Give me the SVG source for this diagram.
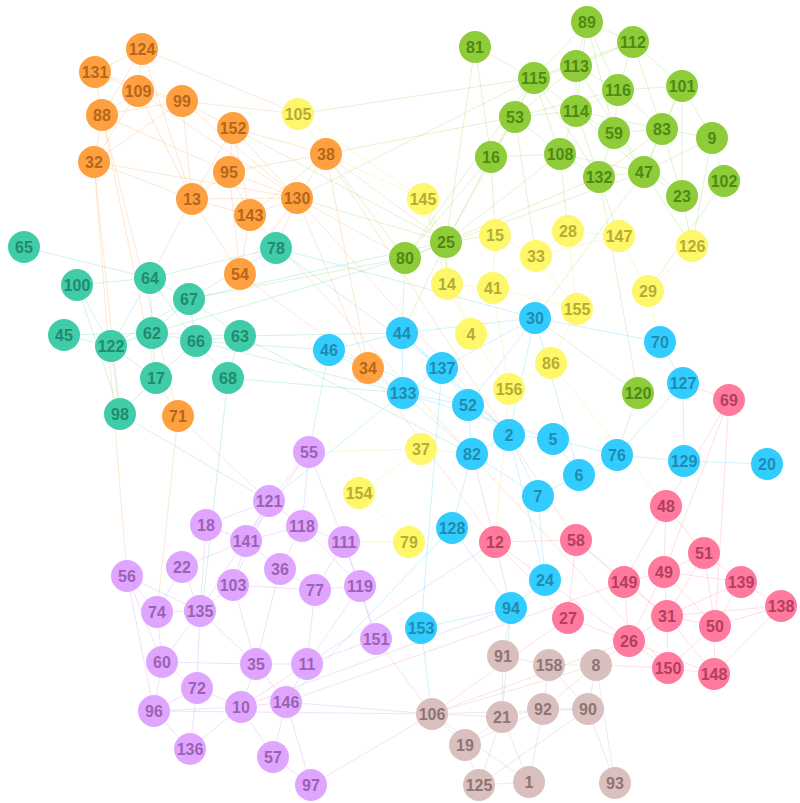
<svg xmlns="http://www.w3.org/2000/svg" width="800" height="803" viewBox="0 0 800 803">
<style>
text{font-family:"Liberation Sans",Arial,sans-serif;font-weight:bold;font-size:16px;text-anchor:middle}
circle{r:16px}
.or circle{fill:#ffa040}.or text{fill:#b5661a}
.te circle{fill:#40cca8}.te text{fill:#1f8a6e}
.gr circle{fill:#8ecc3a}.gr text{fill:#4e8a12}
.ye circle{fill:#fff76a}.ye text{fill:#b5ad33}
.bl circle{fill:#33ccff}.bl text{fill:#1e8cb0}
.pk circle{fill:#ff7a9c}.pk text{fill:#b33e60}
.pu circle{fill:#e0a6ff}.pu text{fill:#9b62b3}
.ta circle{fill:#d9c0bf}.ta text{fill:#8f7472}
#edges line{stroke-width:0.8;stroke-opacity:0.3}
.eo{stroke:#ffa040}.et{stroke:#40cca8}.eg{stroke:#8ecc3a}.ey{stroke:#e6dc40}.eb{stroke:#33ccff}.ep{stroke:#ff7a9c}.eu{stroke:#c080f0}.en{stroke:#c0a0a0}
</style>
<rect width="800" height="803" fill="#ffffff"/>
<g id="edges">
<!-- orange -->
<line class="eo" x1="142" y1="49" x2="95" y2="72"/><line class="eo" x1="142" y1="49" x2="138" y2="91"/><line class="eo" x1="142" y1="49" x2="102" y2="115"/><line class="eo" x1="142" y1="49" x2="298" y2="114"/><line class="eo" x1="142" y1="49" x2="192" y2="199"/>
<line class="eo" x1="95" y1="72" x2="138" y2="91"/><line class="eo" x1="95" y1="72" x2="182" y2="101"/><line class="eo" x1="95" y1="72" x2="102" y2="115"/>
<line class="eo" x1="138" y1="91" x2="182" y2="101"/><line class="eo" x1="138" y1="91" x2="102" y2="115"/><line class="eo" x1="138" y1="91" x2="94" y2="162"/><line class="eo" x1="138" y1="91" x2="192" y2="199"/><line class="eo" x1="138" y1="91" x2="297" y2="198"/>
<line class="eo" x1="102" y1="115" x2="94" y2="162"/><line class="eo" x1="102" y1="115" x2="182" y2="101"/><line class="eo" x1="102" y1="115" x2="229" y2="172"/><line class="eo" x1="102" y1="115" x2="178" y2="416"/><line class="eo" x1="102" y1="115" x2="156" y2="378"/>
<line class="eo" x1="182" y1="101" x2="298" y2="114"/><line class="eo" x1="182" y1="101" x2="233" y2="128"/><line class="eo" x1="182" y1="101" x2="192" y2="199"/><line class="eo" x1="182" y1="101" x2="297" y2="198"/><line class="eo" x1="182" y1="101" x2="94" y2="162"/>
<line class="eo" x1="233" y1="128" x2="229" y2="172"/><line class="eo" x1="233" y1="128" x2="297" y2="198"/><line class="eo" x1="233" y1="128" x2="250" y2="215"/><line class="eo" x1="233" y1="128" x2="326" y2="154"/><line class="eo" x1="233" y1="128" x2="192" y2="199"/>
<line class="eo" x1="326" y1="154" x2="297" y2="198"/><line class="eo" x1="326" y1="154" x2="229" y2="172"/><line class="eo" x1="326" y1="154" x2="250" y2="215"/><line class="eo" x1="326" y1="154" x2="446" y2="242"/><line class="eo" x1="326" y1="154" x2="368" y2="368"/>
<line class="eo" x1="229" y1="172" x2="192" y2="199"/><line class="eo" x1="229" y1="172" x2="250" y2="215"/><line class="eo" x1="229" y1="172" x2="297" y2="198"/><line class="eo" x1="229" y1="172" x2="240" y2="274"/>
<line class="eo" x1="192" y1="199" x2="250" y2="215"/><line class="eo" x1="192" y1="199" x2="297" y2="198"/><line class="eo" x1="192" y1="199" x2="240" y2="274"/><line class="eo" x1="192" y1="199" x2="150" y2="278"/><line class="eo" x1="192" y1="199" x2="94" y2="162"/>
<line class="eo" x1="94" y1="162" x2="297" y2="198"/><line class="eo" x1="94" y1="162" x2="127" y2="576"/><line class="eo" x1="94" y1="162" x2="120" y2="414"/>
<line class="eo" x1="250" y1="215" x2="240" y2="274"/><line class="eo" x1="250" y1="215" x2="297" y2="198"/><line class="eo" x1="297" y1="198" x2="240" y2="274"/><line class="eo" x1="297" y1="198" x2="276" y2="248"/><line class="eo" x1="297" y1="198" x2="405" y2="258"/><line class="eo" x1="297" y1="198" x2="368" y2="368"/><line class="eo" x1="297" y1="198" x2="509" y2="435"/>
<line class="eo" x1="240" y1="274" x2="368" y2="368"/><line class="eo" x1="368" y1="368" x2="495" y2="542"/><line class="eo" x1="368" y1="368" x2="403" y2="393"/><line class="eo" x1="178" y1="416" x2="157" y2="612"/><line class="eo" x1="178" y1="416" x2="156" y2="378"/><line class="eo" x1="178" y1="416" x2="269" y2="501"/>
<line class="eo" x1="326" y1="154" x2="576" y2="540"/><line class="eo" x1="250" y1="215" x2="668" y2="668"/>
<!-- teal -->
<line class="et" x1="24" y1="247" x2="150" y2="278"/><line class="et" x1="150" y1="278" x2="77" y2="285"/><line class="et" x1="150" y1="278" x2="189" y2="299"/><line class="et" x1="150" y1="278" x2="152" y2="333"/><line class="et" x1="150" y1="278" x2="111" y2="346"/><line class="et" x1="150" y1="278" x2="196" y2="341"/><line class="et" x1="150" y1="278" x2="276" y2="248"/>
<line class="et" x1="77" y1="285" x2="111" y2="346"/><line class="et" x1="77" y1="285" x2="120" y2="414"/><line class="et" x1="64" y1="335" x2="111" y2="346"/><line class="et" x1="64" y1="335" x2="152" y2="333"/>
<line class="et" x1="111" y1="346" x2="152" y2="333"/><line class="et" x1="111" y1="346" x2="156" y2="378"/><line class="et" x1="111" y1="346" x2="120" y2="414"/><line class="et" x1="111" y1="346" x2="189" y2="299"/>
<line class="et" x1="152" y1="333" x2="196" y2="341"/><line class="et" x1="152" y1="333" x2="156" y2="378"/><line class="et" x1="152" y1="333" x2="189" y2="299"/><line class="et" x1="152" y1="333" x2="240" y2="336"/><line class="et" x1="152" y1="333" x2="405" y2="258"/>
<line class="et" x1="196" y1="341" x2="189" y2="299"/><line class="et" x1="196" y1="341" x2="240" y2="336"/><line class="et" x1="196" y1="341" x2="228" y2="378"/><line class="et" x1="196" y1="341" x2="156" y2="378"/><line class="et" x1="196" y1="341" x2="329" y2="350"/><line class="et" x1="196" y1="341" x2="403" y2="393"/>
<line class="et" x1="156" y1="378" x2="120" y2="414"/><line class="et" x1="240" y1="336" x2="228" y2="378"/><line class="et" x1="240" y1="336" x2="402" y2="333"/><line class="et" x1="240" y1="336" x2="189" y2="299"/><line class="et" x1="189" y1="299" x2="276" y2="248"/><line class="et" x1="189" y1="299" x2="446" y2="242"/>
<line class="et" x1="228" y1="378" x2="403" y2="393"/><line class="et" x1="228" y1="378" x2="202" y2="611"/><line class="et" x1="120" y1="414" x2="269" y2="501"/><line class="et" x1="276" y1="248" x2="535" y2="318"/><line class="et" x1="276" y1="248" x2="442" y2="368"/><line class="et" x1="240" y1="336" x2="472" y2="454"/>
<!-- green -->
<line class="eg" x1="475" y1="47" x2="534" y2="78"/><line class="eg" x1="475" y1="47" x2="491" y2="157"/><line class="eg" x1="475" y1="47" x2="446" y2="242"/>
<line class="eg" x1="587" y1="22" x2="576" y2="66"/><line class="eg" x1="587" y1="22" x2="534" y2="78"/><line class="eg" x1="587" y1="22" x2="633" y2="42"/><line class="eg" x1="587" y1="22" x2="618" y2="90"/><line class="eg" x1="587" y1="22" x2="576" y2="111"/><line class="eg" x1="587" y1="22" x2="614" y2="133"/>
<line class="eg" x1="633" y1="42" x2="576" y2="66"/><line class="eg" x1="633" y1="42" x2="618" y2="90"/><line class="eg" x1="633" y1="42" x2="682" y2="86"/><line class="eg" x1="633" y1="42" x2="662" y2="129"/><line class="eg" x1="633" y1="42" x2="534" y2="78"/>
<line class="eg" x1="576" y1="66" x2="534" y2="78"/><line class="eg" x1="576" y1="66" x2="576" y2="111"/><line class="eg" x1="576" y1="66" x2="618" y2="90"/><line class="eg" x1="576" y1="66" x2="515" y2="117"/><line class="eg" x1="576" y1="66" x2="644" y2="172"/>
<line class="eg" x1="534" y1="78" x2="515" y2="117"/><line class="eg" x1="534" y1="78" x2="576" y2="111"/><line class="eg" x1="534" y1="78" x2="491" y2="157"/><line class="eg" x1="534" y1="78" x2="560" y2="154"/><line class="eg" x1="534" y1="78" x2="405" y2="258"/><line class="eg" x1="534" y1="78" x2="298" y2="114"/><line class="eg" x1="534" y1="78" x2="297" y2="198"/><line class="eg" x1="534" y1="78" x2="599" y2="177"/>
<line class="eg" x1="618" y1="90" x2="614" y2="133"/><line class="eg" x1="618" y1="90" x2="682" y2="86"/><line class="eg" x1="618" y1="90" x2="576" y2="111"/><line class="eg" x1="618" y1="90" x2="662" y2="129"/><line class="eg" x1="618" y1="90" x2="515" y2="117"/>
<line class="eg" x1="682" y1="86" x2="662" y2="129"/><line class="eg" x1="682" y1="86" x2="712" y2="138"/><line class="eg" x1="682" y1="86" x2="644" y2="172"/><line class="eg" x1="682" y1="86" x2="682" y2="196"/>
<line class="eg" x1="515" y1="117" x2="576" y2="111"/><line class="eg" x1="515" y1="117" x2="491" y2="157"/><line class="eg" x1="515" y1="117" x2="560" y2="154"/><line class="eg" x1="515" y1="117" x2="446" y2="242"/><line class="eg" x1="515" y1="117" x2="326" y2="154"/><line class="eg" x1="515" y1="117" x2="536" y2="256"/>
<line class="eg" x1="576" y1="111" x2="614" y2="133"/><line class="eg" x1="576" y1="111" x2="560" y2="154"/><line class="eg" x1="576" y1="111" x2="599" y2="177"/><line class="eg" x1="576" y1="111" x2="644" y2="172"/><line class="eg" x1="576" y1="111" x2="662" y2="129"/>
<line class="eg" x1="614" y1="133" x2="662" y2="129"/><line class="eg" x1="614" y1="133" x2="644" y2="172"/><line class="eg" x1="614" y1="133" x2="599" y2="177"/><line class="eg" x1="614" y1="133" x2="682" y2="196"/>
<line class="eg" x1="662" y1="129" x2="644" y2="172"/><line class="eg" x1="662" y1="129" x2="712" y2="138"/><line class="eg" x1="662" y1="129" x2="682" y2="196"/><line class="eg" x1="662" y1="129" x2="599" y2="177"/>
<line class="eg" x1="712" y1="138" x2="724" y2="181"/><line class="eg" x1="712" y1="138" x2="644" y2="172"/><line class="eg" x1="712" y1="138" x2="692" y2="246"/>
<line class="eg" x1="491" y1="157" x2="446" y2="242"/><line class="eg" x1="491" y1="157" x2="405" y2="258"/><line class="eg" x1="491" y1="157" x2="495" y2="235"/><line class="eg" x1="491" y1="157" x2="560" y2="154"/>
<line class="eg" x1="560" y1="154" x2="599" y2="177"/><line class="eg" x1="560" y1="154" x2="644" y2="172"/><line class="eg" x1="560" y1="154" x2="446" y2="242"/><line class="eg" x1="560" y1="154" x2="568" y2="231"/>
<line class="eg" x1="599" y1="177" x2="644" y2="172"/><line class="eg" x1="599" y1="177" x2="619" y2="236"/><line class="eg" x1="599" y1="177" x2="446" y2="242"/><line class="eg" x1="644" y1="172" x2="682" y2="196"/><line class="eg" x1="644" y1="172" x2="692" y2="246"/><line class="eg" x1="644" y1="172" x2="535" y2="318"/><line class="eg" x1="682" y1="196" x2="692" y2="246"/><line class="eg" x1="724" y1="181" x2="648" y2="291"/>
<line class="eg" x1="446" y1="242" x2="405" y2="258"/><line class="eg" x1="446" y1="242" x2="495" y2="235"/><line class="eg" x1="446" y1="242" x2="423" y2="199"/><line class="eg" x1="446" y1="242" x2="297" y2="198"/><line class="eg" x1="446" y1="242" x2="447" y2="284"/><line class="eg" x1="446" y1="242" x2="402" y2="333"/><line class="eg" x1="446" y1="242" x2="233" y2="128"/>
<line class="eg" x1="405" y1="258" x2="189" y2="299"/><line class="eg" x1="405" y1="258" x2="326" y2="154"/><line class="eg" x1="405" y1="258" x2="402" y2="333"/><line class="eg" x1="405" y1="258" x2="644" y2="172"/>
<line class="eg" x1="638" y1="393" x2="535" y2="318"/><line class="eg" x1="638" y1="393" x2="617" y2="455"/><line class="eg" x1="638" y1="393" x2="599" y2="177"/>
<!-- yellow -->
<line class="ey" x1="298" y1="114" x2="326" y2="154"/><line class="ey" x1="298" y1="114" x2="423" y2="199"/><line class="ey" x1="423" y1="199" x2="447" y2="284"/><line class="ey" x1="423" y1="199" x2="326" y2="154"/><line class="ey" x1="423" y1="199" x2="471" y2="334"/>
<line class="ey" x1="495" y1="235" x2="536" y2="256"/><line class="ey" x1="495" y1="235" x2="493" y2="288"/><line class="ey" x1="568" y1="231" x2="536" y2="256"/><line class="ey" x1="568" y1="231" x2="619" y2="236"/><line class="ey" x1="568" y1="231" x2="577" y2="309"/><line class="ey" x1="619" y1="236" x2="648" y2="291"/><line class="ey" x1="619" y1="236" x2="536" y2="256"/>
<line class="ey" x1="536" y1="256" x2="493" y2="288"/><line class="ey" x1="536" y1="256" x2="577" y2="309"/><line class="ey" x1="447" y1="284" x2="493" y2="288"/><line class="ey" x1="447" y1="284" x2="471" y2="334"/><line class="ey" x1="493" y1="288" x2="577" y2="309"/><line class="ey" x1="493" y1="288" x2="509" y2="389"/>
<line class="ey" x1="577" y1="309" x2="551" y2="363"/><line class="ey" x1="471" y1="334" x2="509" y2="389"/><line class="ey" x1="551" y1="363" x2="509" y2="389"/><line class="ey" x1="648" y1="291" x2="660" y2="342"/><line class="ey" x1="692" y1="246" x2="648" y2="291"/>
<line class="ey" x1="421" y1="449" x2="359" y2="493"/><line class="ey" x1="421" y1="449" x2="472" y2="454"/><line class="ey" x1="359" y1="493" x2="409" y2="542"/><line class="ey" x1="409" y1="542" x2="344" y2="542"/><line class="ey" x1="421" y1="449" x2="309" y2="452"/><line class="ey" x1="509" y1="389" x2="495" y2="542"/><line class="ey" x1="551" y1="363" x2="666" y2="506"/>
<!-- blue -->
<line class="eb" x1="535" y1="318" x2="402" y2="333"/><line class="eb" x1="535" y1="318" x2="442" y2="368"/><line class="eb" x1="535" y1="318" x2="660" y2="342"/><line class="eb" x1="535" y1="318" x2="509" y2="435"/><line class="eb" x1="535" y1="318" x2="468" y2="405"/><line class="eb" x1="535" y1="318" x2="579" y2="475"/>
<line class="eb" x1="402" y1="333" x2="329" y2="350"/><line class="eb" x1="402" y1="333" x2="442" y2="368"/><line class="eb" x1="402" y1="333" x2="403" y2="393"/><line class="eb" x1="402" y1="333" x2="509" y2="435"/>
<line class="eb" x1="329" y1="350" x2="403" y2="393"/><line class="eb" x1="329" y1="350" x2="468" y2="405"/><line class="eb" x1="442" y1="368" x2="403" y2="393"/><line class="eb" x1="442" y1="368" x2="468" y2="405"/><line class="eb" x1="442" y1="368" x2="509" y2="435"/>
<line class="eb" x1="403" y1="393" x2="468" y2="405"/><line class="eb" x1="403" y1="393" x2="472" y2="454"/><line class="eb" x1="403" y1="393" x2="553" y2="439"/><line class="eb" x1="468" y1="405" x2="509" y2="435"/><line class="eb" x1="468" y1="405" x2="472" y2="454"/>
<line class="eb" x1="509" y1="435" x2="472" y2="454"/><line class="eb" x1="509" y1="435" x2="553" y2="439"/><line class="eb" x1="509" y1="435" x2="538" y2="496"/><line class="eb" x1="553" y1="439" x2="579" y2="475"/><line class="eb" x1="553" y1="439" x2="617" y2="455"/>
<line class="eb" x1="579" y1="475" x2="617" y2="455"/><line class="eb" x1="579" y1="475" x2="538" y2="496"/><line class="eb" x1="617" y1="455" x2="684" y2="461"/><line class="eb" x1="684" y1="461" x2="767" y2="464"/><line class="eb" x1="660" y1="342" x2="683" y2="383"/><line class="eb" x1="683" y1="383" x2="684" y2="461"/><line class="eb" x1="683" y1="383" x2="617" y2="455"/>
<line class="eb" x1="472" y1="454" x2="452" y2="528"/><line class="eb" x1="472" y1="454" x2="538" y2="496"/><line class="eb" x1="538" y1="496" x2="545" y2="580"/><line class="eb" x1="545" y1="580" x2="511" y2="608"/><line class="eb" x1="511" y1="608" x2="421" y2="628"/><line class="eb" x1="452" y1="528" x2="511" y2="608"/><line class="eb" x1="421" y1="628" x2="432" y2="714"/><line class="eb" x1="452" y1="528" x2="286" y2="702"/><line class="eb" x1="329" y1="350" x2="309" y2="452"/><line class="eb" x1="403" y1="393" x2="269" y2="501"/><line class="eb" x1="442" y1="368" x2="421" y2="628"/><line class="eb" x1="511" y1="608" x2="502" y2="717"/><line class="eb" x1="509" y1="435" x2="545" y2="580"/>
<!-- pink -->
<line class="ep" x1="729" y1="400" x2="666" y2="506"/><line class="ep" x1="729" y1="400" x2="683" y2="383"/><line class="ep" x1="729" y1="400" x2="715" y2="626"/><line class="ep" x1="729" y1="400" x2="664" y2="572"/>
<line class="ep" x1="666" y1="506" x2="704" y2="553"/><line class="ep" x1="666" y1="506" x2="664" y2="572"/><line class="ep" x1="666" y1="506" x2="624" y2="582"/>
<line class="ep" x1="495" y1="542" x2="576" y2="540"/><line class="ep" x1="495" y1="542" x2="511" y2="608"/><line class="ep" x1="495" y1="542" x2="568" y2="618"/><line class="ep" x1="495" y1="542" x2="629" y2="641"/><line class="ep" x1="495" y1="542" x2="472" y2="454"/>
<line class="ep" x1="576" y1="540" x2="624" y2="582"/><line class="ep" x1="576" y1="540" x2="568" y2="618"/><line class="ep" x1="576" y1="540" x2="667" y2="616"/>
<line class="ep" x1="704" y1="553" x2="664" y2="572"/><line class="ep" x1="704" y1="553" x2="741" y2="582"/><line class="ep" x1="704" y1="553" x2="667" y2="616"/><line class="ep" x1="704" y1="553" x2="715" y2="626"/>
<line class="ep" x1="664" y1="572" x2="624" y2="582"/><line class="ep" x1="664" y1="572" x2="667" y2="616"/><line class="ep" x1="664" y1="572" x2="741" y2="582"/><line class="ep" x1="664" y1="572" x2="629" y2="641"/><line class="ep" x1="664" y1="572" x2="715" y2="626"/>
<line class="ep" x1="741" y1="582" x2="781" y2="606"/><line class="ep" x1="741" y1="582" x2="715" y2="626"/><line class="ep" x1="741" y1="582" x2="667" y2="616"/><line class="ep" x1="781" y1="606" x2="715" y2="626"/><line class="ep" x1="781" y1="606" x2="714" y2="674"/><line class="ep" x1="781" y1="606" x2="667" y2="616"/>
<line class="ep" x1="667" y1="616" x2="629" y2="641"/><line class="ep" x1="667" y1="616" x2="715" y2="626"/><line class="ep" x1="667" y1="616" x2="668" y2="668"/><line class="ep" x1="667" y1="616" x2="714" y2="674"/>
<line class="ep" x1="624" y1="582" x2="629" y2="641"/><line class="ep" x1="624" y1="582" x2="667" y2="616"/><line class="ep" x1="568" y1="618" x2="629" y2="641"/><line class="ep" x1="629" y1="641" x2="668" y2="668"/><line class="ep" x1="629" y1="641" x2="714" y2="674"/>
<line class="ep" x1="715" y1="626" x2="668" y2="668"/><line class="ep" x1="715" y1="626" x2="714" y2="674"/><line class="ep" x1="668" y1="668" x2="714" y2="674"/><line class="ep" x1="629" y1="641" x2="596" y2="665"/><line class="ep" x1="668" y1="668" x2="596" y2="665"/><line class="ep" x1="568" y1="618" x2="432" y2="714"/><line class="ep" x1="624" y1="582" x2="286" y2="702"/><line class="ep" x1="629" y1="641" x2="432" y2="714"/>
<!-- purple -->
<line class="eu" x1="309" y1="452" x2="269" y2="501"/><line class="eu" x1="309" y1="452" x2="302" y2="526"/><line class="eu" x1="309" y1="452" x2="246" y2="541"/><line class="eu" x1="309" y1="452" x2="344" y2="542"/>
<line class="eu" x1="269" y1="501" x2="206" y2="525"/><line class="eu" x1="269" y1="501" x2="246" y2="541"/><line class="eu" x1="269" y1="501" x2="302" y2="526"/><line class="eu" x1="269" y1="501" x2="233" y2="585"/><line class="eu" x1="269" y1="501" x2="200" y2="611"/>
<line class="eu" x1="302" y1="526" x2="344" y2="542"/><line class="eu" x1="302" y1="526" x2="280" y2="569"/><line class="eu" x1="302" y1="526" x2="246" y2="541"/><line class="eu" x1="302" y1="526" x2="360" y2="586"/>
<line class="eu" x1="206" y1="525" x2="246" y2="541"/><line class="eu" x1="206" y1="525" x2="200" y2="611"/><line class="eu" x1="246" y1="541" x2="182" y2="567"/><line class="eu" x1="246" y1="541" x2="233" y2="585"/><line class="eu" x1="246" y1="541" x2="280" y2="569"/>
<line class="eu" x1="344" y1="542" x2="360" y2="586"/><line class="eu" x1="344" y1="542" x2="315" y2="590"/><line class="eu" x1="344" y1="542" x2="376" y2="639"/>
<line class="eu" x1="182" y1="567" x2="200" y2="611"/><line class="eu" x1="182" y1="567" x2="157" y2="612"/><line class="eu" x1="127" y1="576" x2="157" y2="612"/><line class="eu" x1="127" y1="576" x2="162" y2="662"/><line class="eu" x1="127" y1="576" x2="154" y2="711"/><line class="eu" x1="127" y1="576" x2="200" y2="611"/>
<line class="eu" x1="233" y1="585" x2="200" y2="611"/><line class="eu" x1="233" y1="585" x2="256" y2="664"/><line class="eu" x1="233" y1="585" x2="315" y2="590"/><line class="eu" x1="280" y1="569" x2="315" y2="590"/><line class="eu" x1="280" y1="569" x2="256" y2="664"/>
<line class="eu" x1="315" y1="590" x2="307" y2="664"/><line class="eu" x1="315" y1="590" x2="360" y2="586"/><line class="eu" x1="360" y1="586" x2="376" y2="639"/><line class="eu" x1="360" y1="586" x2="307" y2="664"/>
<line class="eu" x1="157" y1="612" x2="200" y2="611"/><line class="eu" x1="157" y1="612" x2="162" y2="662"/><line class="eu" x1="200" y1="611" x2="197" y2="688"/><line class="eu" x1="200" y1="611" x2="256" y2="664"/><line class="eu" x1="200" y1="611" x2="162" y2="662"/>
<line class="eu" x1="162" y1="662" x2="197" y2="688"/><line class="eu" x1="162" y1="662" x2="154" y2="711"/><line class="eu" x1="162" y1="662" x2="256" y2="664"/><line class="eu" x1="256" y1="664" x2="307" y2="664"/><line class="eu" x1="256" y1="664" x2="241" y2="707"/><line class="eu" x1="256" y1="664" x2="286" y2="702"/>
<line class="eu" x1="307" y1="664" x2="286" y2="702"/><line class="eu" x1="307" y1="664" x2="376" y2="639"/><line class="eu" x1="307" y1="664" x2="241" y2="707"/>
<line class="eu" x1="197" y1="688" x2="241" y2="707"/><line class="eu" x1="197" y1="688" x2="154" y2="711"/><line class="eu" x1="197" y1="688" x2="190" y2="749"/><line class="eu" x1="241" y1="707" x2="286" y2="702"/><line class="eu" x1="241" y1="707" x2="190" y2="749"/><line class="eu" x1="241" y1="707" x2="273" y2="757"/><line class="eu" x1="154" y1="711" x2="190" y2="749"/><line class="eu" x1="154" y1="711" x2="241" y2="707"/>
<line class="eu" x1="286" y1="702" x2="273" y2="757"/><line class="eu" x1="286" y1="702" x2="311" y2="785"/><line class="eu" x1="273" y1="757" x2="311" y2="785"/><line class="eu" x1="376" y1="639" x2="432" y2="714"/><line class="eu" x1="286" y1="702" x2="432" y2="714"/><line class="eu" x1="311" y1="785" x2="432" y2="714"/><line class="eu" x1="307" y1="664" x2="495" y2="542"/><line class="eu" x1="241" y1="707" x2="511" y2="608"/><line class="eu" x1="154" y1="711" x2="432" y2="714"/>
<!-- tan -->
<line class="en" x1="503" y1="656" x2="549" y2="665"/><line class="en" x1="503" y1="656" x2="502" y2="717"/><line class="en" x1="503" y1="656" x2="511" y2="608"/><line class="en" x1="549" y1="665" x2="596" y2="665"/><line class="en" x1="549" y1="665" x2="543" y2="709"/><line class="en" x1="549" y1="665" x2="588" y2="709"/>
<line class="en" x1="596" y1="665" x2="588" y2="709"/><line class="en" x1="596" y1="665" x2="543" y2="709"/><line class="en" x1="596" y1="665" x2="432" y2="714"/><line class="en" x1="543" y1="709" x2="502" y2="717"/><line class="en" x1="543" y1="709" x2="588" y2="709"/><line class="en" x1="543" y1="709" x2="529" y2="782"/><line class="en" x1="543" y1="709" x2="465" y2="745"/>
<line class="en" x1="432" y1="714" x2="502" y2="717"/><line class="en" x1="432" y1="714" x2="465" y2="745"/><line class="en" x1="432" y1="714" x2="529" y2="782"/><line class="en" x1="502" y1="717" x2="465" y2="745"/><line class="en" x1="502" y1="717" x2="479" y2="785"/><line class="en" x1="502" y1="717" x2="529" y2="782"/>
<line class="en" x1="465" y1="745" x2="479" y2="785"/><line class="en" x1="479" y1="785" x2="529" y2="782"/><line class="en" x1="588" y1="709" x2="615" y2="783"/><line class="en" x1="588" y1="709" x2="479" y2="785"/><line class="en" x1="596" y1="665" x2="615" y2="783"/><line class="en" x1="588" y1="709" x2="432" y2="714"/>
</g>
<g id="n124" class="or"><circle cx="142" cy="49"/><text x="142" y="55">124</text></g>
<g id="n131" class="or"><circle cx="95" cy="72"/><text x="95" y="78">131</text></g>
<g id="n109" class="or"><circle cx="138" cy="91"/><text x="138" y="97">109</text></g>
<g id="n99" class="or"><circle cx="182" cy="101"/><text x="182" y="107">99</text></g>
<g id="n88" class="or"><circle cx="102" cy="115"/><text x="102" y="121">88</text></g>
<g id="n152" class="or"><circle cx="233" cy="128"/><text x="233" y="134">152</text></g>
<g id="n38" class="or"><circle cx="326" cy="154"/><text x="326" y="160">38</text></g>
<g id="n32" class="or"><circle cx="94" cy="162"/><text x="94" y="168">32</text></g>
<g id="n95" class="or"><circle cx="229" cy="172"/><text x="229" y="178">95</text></g>
<g id="n13" class="or"><circle cx="192" cy="199"/><text x="192" y="205">13</text></g>
<g id="n130" class="or"><circle cx="297" cy="198"/><text x="297" y="204">130</text></g>
<g id="n143" class="or"><circle cx="250" cy="215"/><text x="250" y="221">143</text></g>
<g id="n54" class="or"><circle cx="240" cy="274"/><text x="240" y="280">54</text></g>
<g id="n34" class="or"><circle cx="368" cy="368"/><text x="368" y="374">34</text></g>
<g id="n71" class="or"><circle cx="178" cy="416"/><text x="178" y="422">71</text></g>
<g id="n65" class="te"><circle cx="24" cy="247"/><text x="24" y="253">65</text></g>
<g id="n78" class="te"><circle cx="276" cy="248"/><text x="276" y="254">78</text></g>
<g id="n64" class="te"><circle cx="150" cy="278"/><text x="150" y="284">64</text></g>
<g id="n100" class="te"><circle cx="77" cy="285"/><text x="77" y="291">100</text></g>
<g id="n67" class="te"><circle cx="189" cy="299"/><text x="189" y="305">67</text></g>
<g id="n45" class="te"><circle cx="64" cy="335"/><text x="64" y="341">45</text></g>
<g id="n62" class="te"><circle cx="152" cy="333"/><text x="152" y="339">62</text></g>
<g id="n122" class="te"><circle cx="111" cy="346"/><text x="111" y="352">122</text></g>
<g id="n66" class="te"><circle cx="196" cy="341"/><text x="196" y="347">66</text></g>
<g id="n63" class="te"><circle cx="240" cy="336"/><text x="240" y="342">63</text></g>
<g id="n17" class="te"><circle cx="156" cy="378"/><text x="156" y="384">17</text></g>
<g id="n68" class="te"><circle cx="228" cy="378"/><text x="228" y="384">68</text></g>
<g id="n98" class="te"><circle cx="120" cy="414"/><text x="120" y="420">98</text></g>
<g id="n81" class="gr"><circle cx="475" cy="47"/><text x="475" y="53">81</text></g>
<g id="n89" class="gr"><circle cx="587" cy="22"/><text x="587" y="28">89</text></g>
<g id="n112" class="gr"><circle cx="633" cy="42"/><text x="633" y="48">112</text></g>
<g id="n113" class="gr"><circle cx="576" cy="66"/><text x="576" y="72">113</text></g>
<g id="n115" class="gr"><circle cx="534" cy="78"/><text x="534" y="84">115</text></g>
<g id="n116" class="gr"><circle cx="618" cy="90"/><text x="618" y="96">116</text></g>
<g id="n101" class="gr"><circle cx="682" cy="86"/><text x="682" y="92">101</text></g>
<g id="n53" class="gr"><circle cx="515" cy="117"/><text x="515" y="123">53</text></g>
<g id="n114" class="gr"><circle cx="576" cy="111"/><text x="576" y="117">114</text></g>
<g id="n59" class="gr"><circle cx="614" cy="133"/><text x="614" y="139">59</text></g>
<g id="n83" class="gr"><circle cx="662" cy="129"/><text x="662" y="135">83</text></g>
<g id="n9" class="gr"><circle cx="712" cy="138"/><text x="712" y="144">9</text></g>
<g id="n16" class="gr"><circle cx="491" cy="157"/><text x="491" y="163">16</text></g>
<g id="n108" class="gr"><circle cx="560" cy="154"/><text x="560" y="160">108</text></g>
<g id="n132" class="gr"><circle cx="599" cy="177"/><text x="599" y="183">132</text></g>
<g id="n47" class="gr"><circle cx="644" cy="172"/><text x="644" y="178">47</text></g>
<g id="n102" class="gr"><circle cx="724" cy="181"/><text x="724" y="187">102</text></g>
<g id="n23" class="gr"><circle cx="682" cy="196"/><text x="682" y="202">23</text></g>
<g id="n25" class="gr"><circle cx="446" cy="242"/><text x="446" y="248">25</text></g>
<g id="n80" class="gr"><circle cx="405" cy="258"/><text x="405" y="264">80</text></g>
<g id="n120" class="gr"><circle cx="638" cy="393"/><text x="638" y="399">120</text></g>
<g id="n105" class="ye"><circle cx="298" cy="114"/><text x="298" y="120">105</text></g>
<g id="n145" class="ye"><circle cx="423" cy="199"/><text x="423" y="205">145</text></g>
<g id="n15" class="ye"><circle cx="495" cy="235"/><text x="495" y="241">15</text></g>
<g id="n28" class="ye"><circle cx="568" cy="231"/><text x="568" y="237">28</text></g>
<g id="n147" class="ye"><circle cx="619" cy="236"/><text x="619" y="242">147</text></g>
<g id="n33" class="ye"><circle cx="536" cy="256"/><text x="536" y="262">33</text></g>
<g id="n126" class="ye"><circle cx="692" cy="246"/><text x="692" y="252">126</text></g>
<g id="n14" class="ye"><circle cx="447" cy="284"/><text x="447" y="290">14</text></g>
<g id="n41" class="ye"><circle cx="493" cy="288"/><text x="493" y="294">41</text></g>
<g id="n29" class="ye"><circle cx="648" cy="291"/><text x="648" y="297">29</text></g>
<g id="n155" class="ye"><circle cx="577" cy="309"/><text x="577" y="315">155</text></g>
<g id="n4" class="ye"><circle cx="471" cy="334"/><text x="471" y="340">4</text></g>
<g id="n86" class="ye"><circle cx="551" cy="363"/><text x="551" y="369">86</text></g>
<g id="n156" class="ye"><circle cx="509" cy="389"/><text x="509" y="395">156</text></g>
<g id="n37" class="ye"><circle cx="421" cy="449"/><text x="421" y="455">37</text></g>
<g id="n154" class="ye"><circle cx="359" cy="493"/><text x="359" y="499">154</text></g>
<g id="n79" class="ye"><circle cx="409" cy="542"/><text x="409" y="548">79</text></g>
<g id="n30" class="bl"><circle cx="535" cy="318"/><text x="535" y="324">30</text></g>
<g id="n70" class="bl"><circle cx="660" cy="342"/><text x="660" y="348">70</text></g>
<g id="n44" class="bl"><circle cx="402" cy="333"/><text x="402" y="339">44</text></g>
<g id="n46" class="bl"><circle cx="329" cy="350"/><text x="329" y="356">46</text></g>
<g id="n137" class="bl"><circle cx="442" cy="368"/><text x="442" y="374">137</text></g>
<g id="n133" class="bl"><circle cx="403" cy="393"/><text x="403" y="399">133</text></g>
<g id="n127" class="bl"><circle cx="683" cy="383"/><text x="683" y="389">127</text></g>
<g id="n52" class="bl"><circle cx="468" cy="405"/><text x="468" y="411">52</text></g>
<g id="n2" class="bl"><circle cx="509" cy="435"/><text x="509" y="441">2</text></g>
<g id="n5" class="bl"><circle cx="553" cy="439"/><text x="553" y="445">5</text></g>
<g id="n82" class="bl"><circle cx="472" cy="454"/><text x="472" y="460">82</text></g>
<g id="n76" class="bl"><circle cx="617" cy="455"/><text x="617" y="461">76</text></g>
<g id="n129" class="bl"><circle cx="684" cy="461"/><text x="684" y="467">129</text></g>
<g id="n20" class="bl"><circle cx="767" cy="464"/><text x="767" y="470">20</text></g>
<g id="n6" class="bl"><circle cx="579" cy="475"/><text x="579" y="481">6</text></g>
<g id="n7" class="bl"><circle cx="538" cy="496"/><text x="538" y="502">7</text></g>
<g id="n128" class="bl"><circle cx="452" cy="528"/><text x="452" y="534">128</text></g>
<g id="n24" class="bl"><circle cx="545" cy="580"/><text x="545" y="586">24</text></g>
<g id="n94" class="bl"><circle cx="511" cy="608"/><text x="511" y="614">94</text></g>
<g id="n153" class="bl"><circle cx="421" cy="628"/><text x="421" y="634">153</text></g>
<g id="n69" class="pk"><circle cx="729" cy="400"/><text x="729" y="406">69</text></g>
<g id="n48" class="pk"><circle cx="666" cy="506"/><text x="666" y="512">48</text></g>
<g id="n12" class="pk"><circle cx="495" cy="542"/><text x="495" y="548">12</text></g>
<g id="n58" class="pk"><circle cx="576" cy="540"/><text x="576" y="546">58</text></g>
<g id="n51" class="pk"><circle cx="704" cy="553"/><text x="704" y="559">51</text></g>
<g id="n149" class="pk"><circle cx="624" cy="582"/><text x="624" y="588">149</text></g>
<g id="n49" class="pk"><circle cx="664" cy="572"/><text x="664" y="578">49</text></g>
<g id="n139" class="pk"><circle cx="741" cy="582"/><text x="741" y="588">139</text></g>
<g id="n138" class="pk"><circle cx="781" cy="606"/><text x="781" y="612">138</text></g>
<g id="n27" class="pk"><circle cx="568" cy="618"/><text x="568" y="624">27</text></g>
<g id="n31" class="pk"><circle cx="667" cy="616"/><text x="667" y="622">31</text></g>
<g id="n50" class="pk"><circle cx="715" cy="626"/><text x="715" y="632">50</text></g>
<g id="n26" class="pk"><circle cx="629" cy="641"/><text x="629" y="647">26</text></g>
<g id="n150" class="pk"><circle cx="668" cy="668"/><text x="668" y="674">150</text></g>
<g id="n148" class="pk"><circle cx="714" cy="674"/><text x="714" y="680">148</text></g>
<g id="n55" class="pu"><circle cx="309" cy="452"/><text x="309" y="458">55</text></g>
<g id="n121" class="pu"><circle cx="269" cy="501"/><text x="269" y="507">121</text></g>
<g id="n18" class="pu"><circle cx="206" cy="525"/><text x="206" y="531">18</text></g>
<g id="n141" class="pu"><circle cx="246" cy="541"/><text x="246" y="547">141</text></g>
<g id="n118" class="pu"><circle cx="302" cy="526"/><text x="302" y="532">118</text></g>
<g id="n111" class="pu"><circle cx="344" cy="542"/><text x="344" y="548">111</text></g>
<g id="n22" class="pu"><circle cx="182" cy="567"/><text x="182" y="573">22</text></g>
<g id="n36" class="pu"><circle cx="280" cy="569"/><text x="280" y="575">36</text></g>
<g id="n56" class="pu"><circle cx="127" cy="576"/><text x="127" y="582">56</text></g>
<g id="n103" class="pu"><circle cx="233" cy="585"/><text x="233" y="591">103</text></g>
<g id="n77" class="pu"><circle cx="315" cy="590"/><text x="315" y="596">77</text></g>
<g id="n119" class="pu"><circle cx="360" cy="586"/><text x="360" y="592">119</text></g>
<g id="n74" class="pu"><circle cx="157" cy="612"/><text x="157" y="618">74</text></g>
<g id="n135" class="pu"><circle cx="200" cy="611"/><text x="200" y="617">135</text></g>
<g id="n151" class="pu"><circle cx="376" cy="639"/><text x="376" y="645">151</text></g>
<g id="n60" class="pu"><circle cx="162" cy="662"/><text x="162" y="668">60</text></g>
<g id="n35" class="pu"><circle cx="256" cy="664"/><text x="256" y="670">35</text></g>
<g id="n11" class="pu"><circle cx="307" cy="664"/><text x="307" y="670">11</text></g>
<g id="n72" class="pu"><circle cx="197" cy="688"/><text x="197" y="694">72</text></g>
<g id="n10" class="pu"><circle cx="241" cy="707"/><text x="241" y="713">10</text></g>
<g id="n146" class="pu"><circle cx="286" cy="702"/><text x="286" y="708">146</text></g>
<g id="n96" class="pu"><circle cx="154" cy="711"/><text x="154" y="717">96</text></g>
<g id="n136" class="pu"><circle cx="190" cy="749"/><text x="190" y="755">136</text></g>
<g id="n57" class="pu"><circle cx="273" cy="757"/><text x="273" y="763">57</text></g>
<g id="n97" class="pu"><circle cx="311" cy="785"/><text x="311" y="791">97</text></g>
<g id="n91" class="ta"><circle cx="503" cy="656"/><text x="503" y="662">91</text></g>
<g id="n158" class="ta"><circle cx="549" cy="665"/><text x="549" y="671">158</text></g>
<g id="n8" class="ta"><circle cx="596" cy="665"/><text x="596" y="671">8</text></g>
<g id="n106" class="ta"><circle cx="432" cy="714"/><text x="432" y="720">106</text></g>
<g id="n21" class="ta"><circle cx="502" cy="717"/><text x="502" y="723">21</text></g>
<g id="n92" class="ta"><circle cx="543" cy="709"/><text x="543" y="715">92</text></g>
<g id="n90" class="ta"><circle cx="588" cy="709"/><text x="588" y="715">90</text></g>
<g id="n19" class="ta"><circle cx="465" cy="745"/><text x="465" y="751">19</text></g>
<g id="n125" class="ta"><circle cx="479" cy="785"/><text x="479" y="791">125</text></g>
<g id="n1" class="ta"><circle cx="529" cy="782"/><text x="529" y="788">1</text></g>
<g id="n93" class="ta"><circle cx="615" cy="783"/><text x="615" y="789">93</text></g>
</svg>
